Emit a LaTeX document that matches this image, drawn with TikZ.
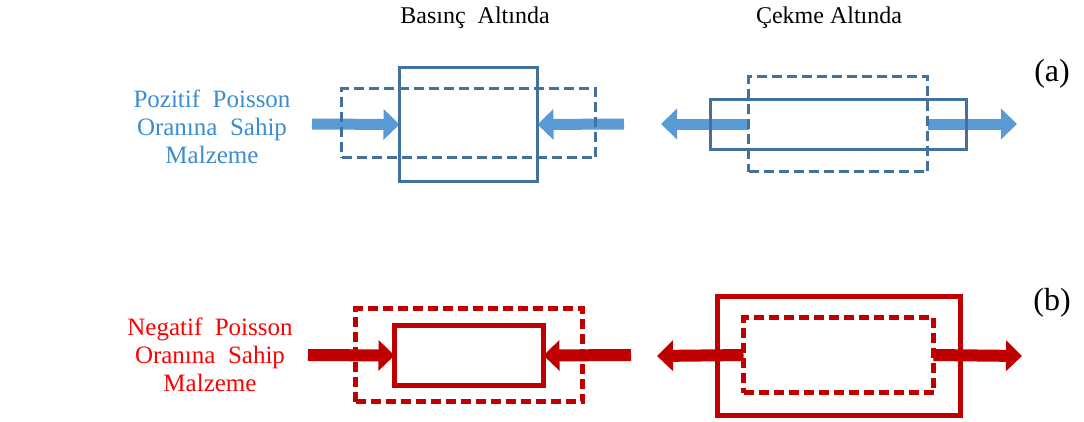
\documentclass[tikz,border=0pt]{standalone}
\usepackage{fontspec}
\setmainfont{Liberation Serif}
\usepackage{xcolor}
\usetikzlibrary{positioning,arrows.meta,backgrounds}

\definecolor{boxblue}{HTML}{41719C}
\definecolor{arrblue}{HTML}{5B9BD5}
\definecolor{txtblue}{HTML}{3C8CD2}
\definecolor{boxred}{HTML}{C00000}
\definecolor{txtred}{HTML}{FF0000}

\begin{document}
\begin{tikzpicture}[x=1pt,y=-1pt,
    specimen/.style={draw, rectangle, inner sep=0pt, outer sep=0pt, line width=3.8pt},
    deformed/.style={specimen, dash pattern=on 10pt off 5pt},
    load/.style={line width=11pt, -{Triangle[length=16pt 0 0,width=30pt 0 0]}},
    title/.style={font=\fontsize{24}{28}\selectfont},
    caselabel/.style={font=\fontsize{32}{36}\selectfont},
    material/.style={align=center, font=\fontsize{25}{28}\selectfont}]
    \useasboundingbox (0,0) rectangle (1084,421);

    % column titles
    \node[title] (basinc) at (475,18) {Basınç\ \ Altında};
    \node[title] (cekme)  at (829,18) {Çekme Altında};
    \node[caselabel] (casea) at (1052,74)  {(a)};
    \node[caselabel] (caseb) at (1052,303) {(b)};

    % material labels
    \node[material, text=txtblue] (pozitif) at (212,127) {Pozitif\ \ Poisson\\Oranına\ \ Sahip\\Malzeme};
    \node[material, text=txtred]  (negatif) at (210,355) {Negatif\ \ Poisson\\Oranına\ \ Sahip\\Malzeme};

    % (a) positive Poisson ratio
    \node[specimen, draw=boxblue, minimum width=138pt, minimum height=114pt] (pcomp)  at (468.5,124.5) {};
    \node[deformed, draw=boxblue, minimum width=254pt, minimum height=69pt]  (pcompd) at (468.5,123) {};
    \node[specimen, draw=boxblue, minimum width=256pt, minimum height=50pt]  (pten)   at (838.5,124.5) {};
    \node[deformed, draw=boxblue, minimum width=179pt, minimum height=95pt]  (ptend)  at (838,124) {};

    % (b) negative Poisson ratio
    \node[specimen, draw=boxred, line width=4.4pt, minimum width=149pt, minimum height=60pt]  (ncomp)  at (469,355.5) {};
    \node[deformed, draw=boxred, line width=4.4pt, minimum width=227pt, minimum height=93pt]  (ncompd) at (469,355) {};
    \node[specimen, draw=boxred, line width=4.4pt, minimum width=243pt, minimum height=119pt] (nten)   at (839,356) {};
    \node[deformed, draw=boxred, line width=4.4pt, minimum width=190pt, minimum height=75pt]  (ntend)  at (838.5,355) {};

    % free ends of the loads
    \coordinate (pcl) at (312,124);
    \coordinate (pcr) at (624,124);
    \coordinate (ptl) at (661,124);
    \coordinate (ptr) at (1017,124);
    \coordinate (ncl) at (308,355);
    \coordinate (ncr) at (631,355);
    \coordinate (ntl) at (657,356);
    \coordinate (ntr) at (1022,356);

    \begin{pgfonlayer}{background}
        \draw[load, arrblue] (pcl) -- (pcomp.west);
        \draw[load, arrblue] (pcr) -- (pcomp.east);
        \draw[load, arrblue] (ptend.west) -- (ptl);
        \draw[load, arrblue] (ptend.east) -- (ptr);
        \draw[load, boxred, line width=12pt] (ncl) -- (ncomp.west);
        \draw[load, boxred, line width=12pt] (ncr) -- (ncomp.east);
        \draw[load, boxred, line width=12pt] (ntend.west) -- (ntl);
        \draw[load, boxred, line width=12pt] (ntend.east) -- (ntr);
    \end{pgfonlayer}
\end{tikzpicture}
\end{document}
